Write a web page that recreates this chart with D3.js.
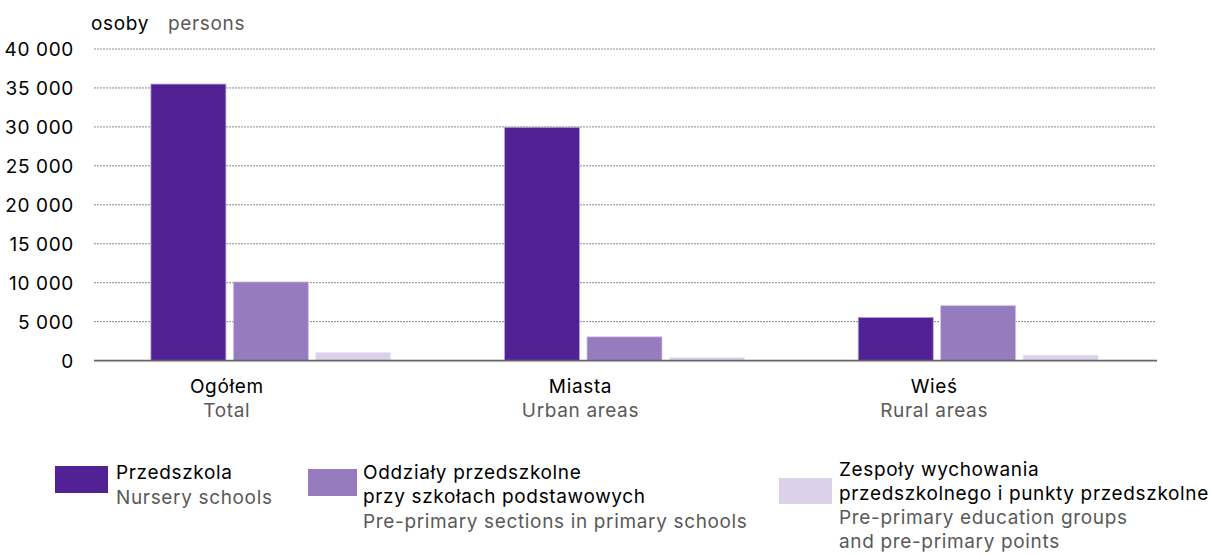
<!DOCTYPE html>
<html><head><meta charset="utf-8">
<script src="https://cdn.jsdelivr.net/npm/d3@7"></script>
<style>
body{margin:0;background:#fff;}
svg{display:block;font-family:"Inter",sans-serif;}
svg text{letter-spacing:0.65px;}
</style></head><body>
<svg id="c" width="1211" height="555"></svg>
<script>
const categoriesPL = ["Ogółem","Miasta","Wieś"];
const categoriesEN = ["Total","Urban areas","Rural areas"];
const seriesNames = ["Przedszkola","Oddziały przedszkolne","Zespoły wychowania"];
const przedszkola = [35500, 29950, 5550];
const oddzialy = [10100, 3050, 7050];
const zespoly = [1050, 400, 700];
const yTicks = [0,5000,10000,15000,20000,25000,30000,35000,40000];
const colors = ["#522294","#967bbf","#dcd1ea"];
const strokeColors = ["#b7a6d4","#d3c6e6","#ece6f4"];

const svg = d3.select("#c");
const mLeft = 94, mRight = 1155, mTop = 49, mBottom = 360.6;
const FS = "19px";
const y = d3.scaleLinear().domain([0,40000]).range([mBottom, mTop]);
const x0 = d3.scaleBand().domain(categoriesPL).range([mLeft, mRight]).padding(0);
const x1 = d3.scaleBand().domain(seriesNames).range([0, x0.bandwidth()]).paddingInner(0.09).paddingOuter(0.69);

// gridlines
svg.append("g").selectAll("line").data(yTicks.filter(t=>t>0)).join("line")
  .attr("x1", mLeft).attr("x2", mRight).attr("y1", d=>y(d)).attr("y2", d=>y(d))
  .attr("stroke","#8a8a8a").attr("stroke-width",1).attr("stroke-dasharray","2,1");

// y axis labels
const yAxis = d3.axisLeft(y).tickValues(yTicks).tickSize(0).tickPadding(0)
  .tickFormat(d => d3.format(",")(d).replace(/,/g," "));
const ga = svg.append("g").attr("transform","translate(74,0)").call(yAxis);
ga.select(".domain").remove();
ga.selectAll("text").attr("font-size",FS).attr("fill","#000").attr("font-family","Inter").attr("dy","0.36em");

// bars
const data = categoriesPL.map((c,i)=>({cat:c, vals:[przedszkola[i], oddzialy[i], zespoly[i]]}));
const g = svg.append("g");
data.forEach(d=>{
  g.selectAll(null).data(d.vals).join("rect")
    .attr("x",(v,j)=>x0(d.cat)+x1(seriesNames[j]))
    .attr("width",x1.bandwidth())
    .attr("y",v=>y(v))
    .attr("height",v=>mBottom-y(v))
    .attr("fill",(v,j)=>colors[j])
    .attr("stroke",(v,j)=>strokeColors[j]).attr("stroke-width",0.8);
});

// baseline
svg.append("line").attr("x1",mLeft).attr("x2",mRight+2).attr("y1",mBottom).attr("y2",mBottom)
  .attr("stroke","#666").attr("stroke-width",1.6);

// category labels
const cl = svg.append("g");
categoriesPL.forEach((c,i)=>{
  const cx = x0(c)+x0.bandwidth()/2 - 44;
  cl.append("text").attr("x",cx).attr("y",393).attr("text-anchor","middle")
    .attr("font-size",FS).attr("fill","#000").text(c);
  cl.append("text").attr("x",cx).attr("y",417).attr("text-anchor","middle")
    .attr("font-size",FS).attr("fill","#595959").text(categoriesEN[i]);
});

// unit
svg.append("text").attr("x",91).attr("y",30).attr("font-size",FS).attr("fill","#000").text("osoby");
svg.append("text").attr("x",168).attr("y",30).attr("font-size",FS).attr("fill","#595959").text("persons");

// legend
const legend = [
  {sw:[55,466,53,27], tx:116, lines:[["Przedszkola","#000",479],["Nursery schools","#595959",504]]},
  {sw:[308,469,49,27], tx:363, lines:[["Oddziały przedszkolne","#000",479],["przy szkołach podstawowych","#000",503],["Pre-primary sections in primary schools","#595959",528]]},
  {sw:[779,478,53,26], tx:839, lines:[["Zespoły wychowania","#000",476],["przedszkolnego i punkty przedszkolne","#000",500],["Pre-primary education groups","#595959",524],["and pre-primary points","#595959",548]]}
];
const lg = svg.append("g");
legend.forEach((L,i)=>{
  lg.append("rect").attr("x",L.sw[0]).attr("y",L.sw[1]).attr("width",L.sw[2]).attr("height",L.sw[3]).attr("fill",colors[i]);
  L.lines.forEach(([t,c,yy])=>{
    lg.append("text").attr("x",L.tx).attr("y",yy).attr("font-size",FS).attr("fill",c).text(t);
  });
});
</script>
</body></html>
